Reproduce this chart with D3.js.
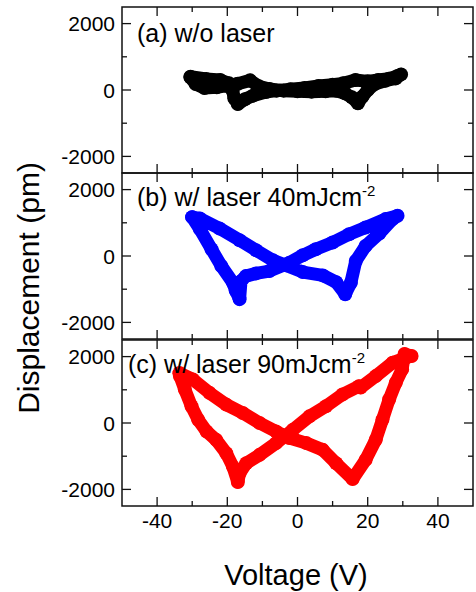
<!DOCTYPE html>
<html>
<head>
<meta charset="utf-8">
<script src="https://cdn.jsdelivr.net/npm/d3@7"></script>
<style>
  body { margin: 0; background: #fff; }
  svg text { font-family: "Liberation Sans", Arial, Helvetica, sans-serif; fill: #000; }
</style>
</head>
<body>
<div id="chart"></div>
<script>
// loop data (V, pm), each loop closed
const voltageA = [-30.5, -29, -26.5, -23, -20, -17, -13.5, -11, -8, -4, 0, 4, 8, 11, 13.5, 15.5, 17.2,
  18.5, 20, 22, 25, 28, 29.5,
  28.5, 26, 23, 20, 16.5, 13, 10, 6, 2, -2, -6, -9, -12.7, -15, -17,
  -18, -18.5, -19.5, -22, -26, -30.5];
const dispA = [380, 180, 60, 80, 130, 190, 290, 110, 30, -20, -40, -50, -40, -20, -100, -220, -400,
  -200, 0, 180, 280, 350, 470,
  420, 340, 300, 260, 300, 200, 160, 120, 60, 20, -20, -60, -170, -280, -424,
  -250, -20, 200, 300, 330, 400];

const voltageB = [-30, -27.8, -22.2, -16.5, -11.8, -7, -3.2, 1.5, 7.2, 11, 13.6,
  15.2, 16.6, 19.4, 23.3, 27.1, 28.5,
  25.1, 19.4, 14.7, 10, 5.2, 1.5, -2.3, -8, -11.8, -14.7, -16.1, -16.5,
  -17.6, -18.4, -21.7, -24.5, -27.8, -30];
const dispB = [1170, 1130, 830, 476, 173, -130, -282, -484, -585, -788, -1150,
  -806, -152, 303, 679, 1112, 1212,
  1112, 860, 657, 406, 203, 21, -200, -454, -524, -606, -757, -1300,
  -1050, -806, -303, 203, 809, 1170];

const voltageC = [-33.6, -29.8, -25.1, -20.3, -15.6, -10.8, -6.1, -2.3, 2.5, 7.2, 11, 15.7,
  19.4, 22.3, 24.2, 26.1, 28, 29.8, 30.5, 32.5,
  31, 27.1, 22.3, 18, 17.5, 12.8, 8.1, 3.4, -1.3, -6.1, -10.8, -14.6, -16.5, -17,
  -18.4, -20.3, -23.2, -25.9, -28.3, -30.2, -32.1, -33.5, -33.6];
const dispC = [1500, 1312, 909, 554, 303, 0, -254, -454, -606, -809, -1212, -1690,
  -1112, -506, 100, 706, 1212, 1615, 2080, 2020,
  1970, 1818, 1412, 1070, 1109, 857, 503, 200, -203, -606, -960, -1212, -1515, -1780,
  -1315, -909, -506, -254, 100, 503, 1009, 1412, 1500];

const panelLabels = ["(a) w/o laser", "(b) w/ laser 40mJcm", "(c) w/ laser 90mJcm"];
const panelSup = ["", "-2", "-2"];
const panelColors = ["#000000", "#0000ff", "#ff0000"];
const xMajor = [-40, -20, 0, 20, 40];
const xMinor = [-30, -10, 10, 30];
const yMajor = [-2000, 0, 2000];
const yMinor = [-1000, 1000];

const W = 476, H = 592;
const left = 122, right = 473;
const panelTops = [7, 173, 340];
const panelH = 166;

const svg = d3.select("#chart").append("svg")
  .attr("width", W)
  .attr("height", H);

const x = d3.scaleLinear().domain([-50, 50]).range([left, right]);

const loops = [
  voltageA.map((v, i) => [v, dispA[i]]),
  voltageB.map((v, i) => [v, dispB[i]]),
  voltageC.map((v, i) => [v, dispC[i]])
];

loops.forEach((pts, k) => {
  const top = panelTops[k];
  const y = d3.scaleLinear().domain([-2500, 2500]).range([top + panelH, top]);
  const g = svg.append("g");

  const line = d3.line().x(d => x(d[0])).y(d => y(d[1]));
  g.append("path")
    .datum(pts)
    .attr("d", line)
    .attr("fill", "none")
    .attr("stroke", panelColors[k])
    .attr("stroke-width", 13)
    .attr("stroke-linejoin", "round")
    .attr("stroke-linecap", "round");

  g.selectAll("circle")
    .data(pts)
    .enter()
    .append("circle")
    .attr("cx", d => x(d[0]))
    .attr("cy", d => y(d[1]))
    .attr("r", 7)
    .attr("fill", panelColors[k]);

  // frame
  g.append("rect")
    .attr("x", left).attr("y", top)
    .attr("width", right - left).attr("height", panelH)
    .attr("fill", "none")
    .attr("stroke", "#111")
    .attr("stroke-width", 1.5);

  // inward ticks
  const ticks = g.append("g").attr("stroke", "#111").attr("stroke-width", 1.3);
  const xt = xMajor.map(v => [v, 9]).concat(xMinor.map(v => [v, 5]));
  xt.forEach(([v, len]) => {
    ticks.append("line").attr("x1", x(v)).attr("x2", x(v)).attr("y1", top).attr("y2", top + len);
    ticks.append("line").attr("x1", x(v)).attr("x2", x(v)).attr("y1", top + panelH).attr("y2", top + panelH - len);
  });
  const yt = yMajor.map(v => [v, 9]).concat(yMinor.map(v => [v, 5]));
  yt.forEach(([v, len]) => {
    ticks.append("line").attr("x1", left).attr("x2", left + len).attr("y1", y(v)).attr("y2", y(v));
    ticks.append("line").attr("x1", right).attr("x2", right - len).attr("y1", y(v)).attr("y2", y(v));
  });

  g.selectAll(".ylab")
    .data(yMajor)
    .enter()
    .append("text")
    .attr("x", left - 7)
    .attr("y", d => y(d))
    .attr("dy", "0.36em")
    .attr("text-anchor", "end")
    .style("font-size", "21px")
    .text(d => d);

  const lab = g.append("text")
    .attr("x", k === 2 ? 128 : 137)
    .attr("y", [42, 206, 373][k])
    .style("font-size", "25px")
    .text(panelLabels[k]);
  if (panelSup[k]) {
    lab.append("tspan")
      .attr("dy", -10)
      .style("font-size", "15px")
      .text(panelSup[k]);
  }

  if (k === 2) {
    g.selectAll(".xlab")
      .data(xMajor)
      .enter()
      .append("text")
      .attr("x", d => x(d))
      .attr("y", top + panelH + 22)
      .attr("text-anchor", "middle")
      .style("font-size", "21px")
      .text(d => d);
  }
});

svg.append("text")
  .attr("x", 296)
  .attr("y", 585)
  .attr("text-anchor", "middle")
  .style("font-size", "29px")
  .text("Voltage (V)");

svg.append("text")
  .attr("transform", "translate(39,288) rotate(-90)")
  .attr("text-anchor", "middle")
  .style("font-size", "30px")
  .text("Displacement (pm)");
</script>
</body>
</html>
